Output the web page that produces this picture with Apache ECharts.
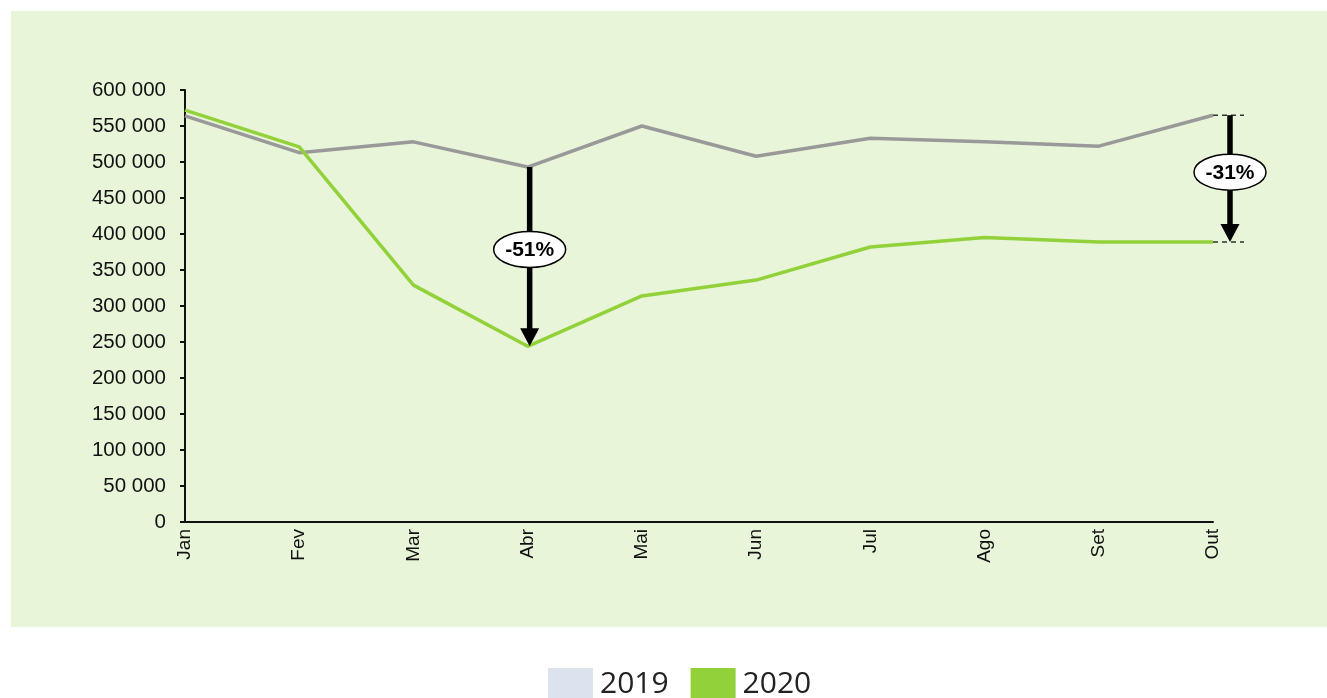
<!DOCTYPE html>
<html>
<head>
<meta charset="utf-8">
<script src="https://cdn.jsdelivr.net/npm/echarts@6/dist/echarts.min.js"></script>
<style>
  html, body { margin: 0; padding: 0; background: #fff; }
  #chart { width: 1327px; height: 698px; }
</style>
</head>
<body>
<div id="chart"></div>
<script>
const months = ['Jan', 'Fev', 'Mar', 'Abr', 'Mai', 'Jun', 'Jul', 'Ago', 'Set', 'Out']
const values2019 = [564000, 513000, 528000, 493000, 550000, 508000, 533000, 528000, 522000, 565000]
const values2020 = [572000, 521000, 329000, 244000, 314000, 336000, 382000, 395000, 389000, 389000]
const yTicks = { min: 0, max: 600000, step: 50000 }
const dropLabels = ['-51%', '-31%']

const chart = echarts.init(document.getElementById('chart'))

const fmt = v => String(v).replace(/\B(?=(\d{3})+(?!\d))/g, ' ')

chart.setOption({
  animation: false,
  grid: { left: 185, right: 114, top: 90, bottom: 176 },
  legend: {
    top: 663,
    left: 543,
    itemWidth: 45,
    itemHeight: 33,
    itemGap: 22,
    icon: 'rect',
    textStyle: { fontFamily: 'Open Sans', fontSize: 30, color: '#222', padding: [0, 0, 0, 2] },
    data: [
      { name: '2019', itemStyle: { color: '#dce3ee' } },
      { name: '2020', itemStyle: { color: '#92d13a' } }
    ]
  },
  xAxis: {
    type: 'category',
    data: months,
    boundaryGap: false,
    axisLine: { lineStyle: { color: '#111', width: 2 } },
    axisTick: { show: false },
    axisLabel: { rotate: 90, margin: 7, color: '#111', fontFamily: 'Liberation Sans', fontSize: 19 }
  },
  yAxis: {
    type: 'value',
    min: yTicks.min,
    max: yTicks.max,
    interval: yTicks.step,
    splitLine: { show: false },
    axisLine: { show: true, lineStyle: { color: '#111', width: 2 } },
    axisTick: { show: true, length: 5, lineStyle: { color: '#111', width: 2 } },
    axisLabel: { margin: 19, color: '#111', fontFamily: 'Liberation Sans', fontSize: 20.5, formatter: fmt }
  },
  series: [
    {
      name: '2019',
      type: 'line',
      data: values2019,
      symbol: 'none',
      lineStyle: { color: '#999999', width: 3.5 },
      itemStyle: { color: '#dce3ee' },
      z: 2
    },
    {
      name: '2020',
      type: 'line',
      data: values2020,
      symbol: 'none',
      lineStyle: { color: '#92d13a', width: 3.5 },
      itemStyle: { color: '#92d13a' },
      z: 3
    }
  ]
})

function arrowGraphics(x, y1, y2, text, caps, frac) {
  const items = []
  const head = 18
  items.push({
    type: 'line', z: 20,
    shape: { x1: x, y1: y1, x2: x, y2: y2 - head + 2 },
    style: { stroke: '#000', lineWidth: 5.5 }
  })
  items.push({
    type: 'polygon', z: 20,
    shape: { points: [[x - 9.5, y2 - head], [x + 9.5, y2 - head], [x, y2]] },
    style: { fill: '#000' }
  })
  if (caps) {
    [y1, y2].forEach(y => {
      items.push({
        type: 'line', z: 19,
        shape: { x1: x - 17, y1: y, x2: x + 14, y2: y },
        style: { stroke: '#333', lineWidth: 1.5, lineDash: [5, 4] }
      })
    })
  }
  const cy = y1 + (y2 - y1) * frac
  items.push({
    type: 'ellipse', z: 21,
    shape: { cx: x, cy: cy, rx: 36, ry: 18 },
    style: { fill: '#fff', stroke: '#000', lineWidth: 1.5 }
  })
  items.push({
    type: 'text', z: 22,
    x: x, y: cy + 1,
    style: {
      text: text, fill: '#000', font: 'bold 21px "Liberation Sans"',
      align: 'center', verticalAlign: 'middle'
    }
  })
  return items
}

const abr = chart.convertToPixel({ seriesIndex: 0 }, [3, values2019[3]])
const abrLow = chart.convertToPixel({ seriesIndex: 0 }, [3, values2020[3]])
const out = chart.convertToPixel({ seriesIndex: 0 }, [9, values2019[9]])
const outLow = chart.convertToPixel({ seriesIndex: 0 }, [9, values2020[9]])

chart.setOption({
  graphic: [
    {
      type: 'rect', z: -10, silent: true,
      shape: { x: 11, y: 11, width: 1316, height: 616 },
      style: { fill: '#e8f5d8' }
    },
    ...arrowGraphics(abr[0] + 2, abr[1], abrLow[1], dropLabels[0], false, 0.46),
    ...arrowGraphics(out[0] + 17, out[1], outLow[1], dropLabels[1], true, 0.45)
  ]
})
</script>
</body>
</html>
